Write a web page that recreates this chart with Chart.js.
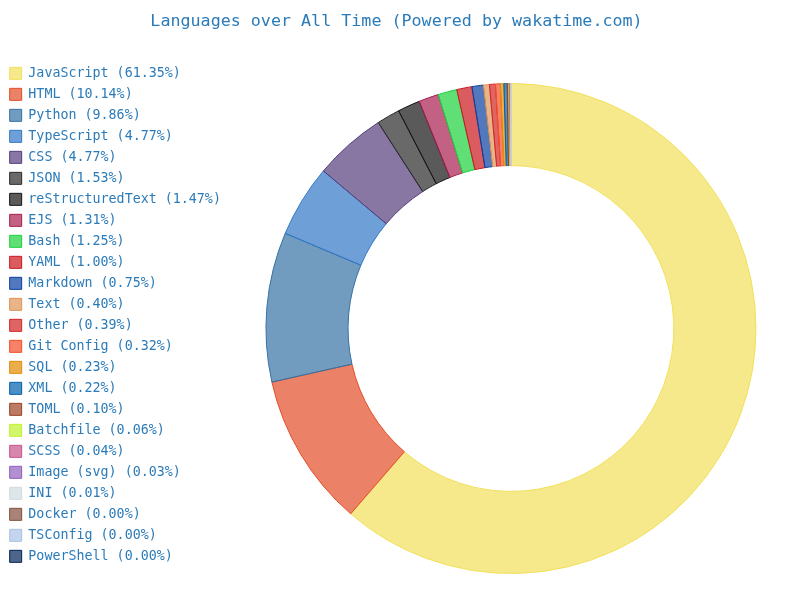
<!DOCTYPE html>
<html lang="en">

<head>
    <meta charset="UTF-8">
    <script src="https://cdn.jsdelivr.net/npm/chart.js"></script>
    <title>Languages over All Time</title>
    <style>
        body { margin: 0; background: #ffffff; }
        .wrap { width: 800px; height: 600px; }
    </style>
</head>

<body>
    <div class="wrap">
        <canvas id="myChart" width="800" height="600"></canvas>
    </div>
</body>

</html>

<script>
    // dados
    const languages = ['JavaScript', 'HTML', 'Python', 'TypeScript', 'CSS', 'JSON', 'reStructuredText', 'EJS',
        'Bash', 'YAML', 'Markdown', 'Text', 'Other', 'Git Config', 'SQL', 'XML', 'TOML', 'Batchfile', 'SCSS',
        'Image (svg)', 'INI', 'Docker', 'TSConfig', 'PowerShell'];
    const percents = [61.35, 10.14, 9.86, 4.77, 4.77, 1.53, 1.47, 1.31, 1.25, 1.00, 0.75, 0.40, 0.39, 0.32,
        0.23, 0.22, 0.10, 0.06, 0.04, 0.03, 0.01, 0.00, 0.00, 0.00];
    const baseColors = ['#f1e05a', '#e34c26', '#3572a5', '#3178c6', '#563d7c', '#292929', '#141414', '#a91e50',
        '#1bd13c', '#cb171e', '#083fa1', '#de9455', '#d22424', '#f44d27', '#e38c00', '#0060ac', '#9c4221',
        '#c1f12e', '#c6538c', '#9060bc', '#d1dbe0', '#834f3e', '#abc2e4', '#012456'];

    const textColor = '#2b7bb9';
    Chart.defaults.font.family = "'DejaVu Sans Mono', monospace";
    Chart.defaults.color = textColor;

    const ctx = document.getElementById('myChart').getContext('2d');
    const myChart = new Chart(ctx, {
        type: 'doughnut',
        data: {
            labels: languages.map((l, i) => l + ' (' + percents[i].toFixed(2) + '%)'),
            datasets: [{
                data: percents,
                backgroundColor: baseColors.map(c => c + 'b3'),
                borderColor: baseColors,
                borderWidth: 1,
                radius: 245,
                cutout: '66.5%'
            }]
        },
        options: {
            responsive: false,
            animation: false,
            layout: {
                padding: { left: 2, right: 9, top: 0, bottom: 0 }
            },
            plugins: {
                title: {
                    display: true,
                    text: 'Languages over All Time (Powered by wakatime.com)',
                    color: textColor,
                    font: { size: 16.7, weight: 'normal' },
                    padding: { top: 12, bottom: 25 }
                },
                legend: {
                    position: 'left',
                    align: 'start',
                    title: {
                        display: true,
                        text: ' ',
                        font: { size: 10 },
                        padding: { top: 47, bottom: 0 }
                    },
                    labels: {
                        boxWidth: 12,
                        boxHeight: 12,
                        padding: 7.67,
                        color: textColor,
                        font: { size: 13.33 }
                    }
                },
                tooltip: { enabled: false }
            }
        }
    });
</script>
